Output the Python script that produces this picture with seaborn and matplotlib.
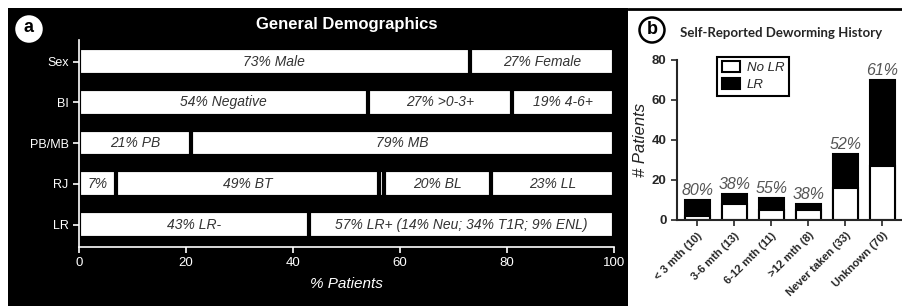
import numpy as np
import pandas as pd
import matplotlib
matplotlib.use("Agg")
import matplotlib.pyplot as plt
import seaborn as sns
from matplotlib import font_manager
from matplotlib.patches import Rectangle, Ellipse, Patch
from matplotlib.lines import Line2D

# Panel a: general demographics (percent of patients)
rows = ["Sex", "BI", "PB/MB", "RJ", "LR"]
sex_vals = [73, 27]
sex_labels = ["73% Male", "27% Female"]
bi_vals = [54, 27, 19]
bi_labels = ["54% Negative", "27% >0-3+", "19% 4-6+"]
pbmb_vals = [21, 79]
pbmb_labels = ["21% PB", "79% MB"]
rj_vals = [7, 49, 1, 20, 23]
rj_labels = ["7%", "49% BT", "", "20% BL", "23% LL"]
lr_vals = [43, 57]
lr_labels = ["43% LR-", "57% LR+ (14% Neu; 34% T1R; 9% ENL)"]
x_ticks = [0, 20, 40, 60, 80, 100]

# Panel b: self-reported deworming history
categories = ["< 3 mth (10)", "3-6 mth (13)", "6-12 mth (11)", ">12 mth (8)",
              "Never taken (33)", "Unknown (70)"]
no_lr = [2, 8, 5, 5, 16, 27]
lr = [8, 5, 6, 3, 17, 43]
pct_labels = ["80%", "38%", "55%", "38%", "52%", "61%"]

sns.set_style("ticks")
names = {f.name for f in font_manager.fontManager.ttflist}
narrow = "Liberation Sans Narrow" if "Liberation Sans Narrow" in names else "Liberation Sans"
plt.rcParams["font.family"] = ["Liberation Sans", "DejaVu Sans"]

W, H = 902, 306
fig = plt.figure(figsize=(W / 100, H / 100), dpi=100)
fig.patch.set_facecolor("white")

def fx(x):
    return x / W

def fy(y):
    return 1 - y / H

def badge(x, y, letter, edge):
    # round panel letter, sized in pixels so it stays a circle
    fig.patches.append(Ellipse((fx(x), fy(y)), 25 / W, 25 / H, transform=fig.transFigure,
                               facecolor="white", edgecolor=edge, lw=1.8, zorder=5))
    fig.text(fx(x), fy(y) + 1 / H, letter, ha="center", va="center", fontsize=13,
             fontweight="bold", color="black", zorder=6)

# black background of panel a, top rule of panel b
fig.patches.append(Rectangle((fx(8), 0), fx(628 - 8), 1 - 8 / H, transform=fig.transFigure,
                             facecolor="black", edgecolor="none", zorder=-5))
fig.lines.append(Line2D([fx(628), 1], [fy(9), fy(9)], transform=fig.transFigure,
                        color="black", lw=2))

# ---------- panel a ----------
ax_a = fig.add_axes([fx(79), fy(246.5), fx(614 - 79), (246.5 - 40) / H])
ax_a.patch.set_alpha(0)

seg_vals = [sex_vals, bi_vals, pbmb_vals, rj_vals, lr_vals]
seg_labels = [sex_labels, bi_labels, pbmb_labels, rj_labels, lr_labels]

records = []
for row, vals in zip(rows, seg_vals):
    cums = np.cumsum(vals)
    for j, c in enumerate(cums[::-1]):
        records.append({"row": row, "cum": c, "layer": j})
df_a = pd.DataFrame(records)

# widest layer first, shorter cumulative bars on top -> stacked look
for j in sorted(df_a["layer"].unique()):
    sub = df_a[df_a["layer"] == j]
    sns.barplot(data=sub, x="cum", y="row", order=rows, orient="h", color="white",
                saturation=1, edgecolor="black", linewidth=3, width=0.66,
                errorbar=None, ax=ax_a)

for i, (vals, labs) in enumerate(zip(seg_vals, seg_labels)):
    start = 0
    for v, lab in zip(vals, labs):
        if lab:
            ax_a.text(start + v / 2, i, lab, ha="center", va="center",
                      style="italic", color="#333333", fontsize=10)
        start += v

ax_a.set_xlim(0, 100)
ax_a.set_ylim(4.54, -0.53)
ax_a.set_xticks(x_ticks)
ax_a.set_xlabel("% Patients", color="white", style="italic", fontsize=11, labelpad=6)
ax_a.set_ylabel("")
for s in ["top", "right"]:
    ax_a.spines[s].set_visible(False)
for s in ["left", "bottom"]:
    ax_a.spines[s].set_color("white")
    ax_a.spines[s].set_linewidth(1.2)
ax_a.tick_params(colors="white", length=4, width=1.2)
for t in ax_a.get_xticklabels():
    t.set_family(narrow)
    t.set_fontsize(9.5)
for t in ax_a.get_yticklabels():
    t.set_family(narrow)
    t.set_fontsize(9)
fig.text(fx(347), fy(25), "General Demographics", color="white", fontweight="bold",
         fontsize=12, ha="center", va="center")
badge(29, 29, "a", "white")

# ---------- panel b ----------
ax_b = fig.add_axes([fx(677), fy(220), fx(902 - 677), (220 - 60) / H])
total = [a + b for a, b in zip(no_lr, lr)]
df_b = pd.DataFrame({"cat": categories, "total": total, "no_lr": no_lr})
sns.barplot(data=df_b, x="cat", y="total", color="black", saturation=1,
            edgecolor="black", linewidth=1.5, width=0.68, errorbar=None, ax=ax_b)
sns.barplot(data=df_b, x="cat", y="no_lr", color="white", saturation=1,
            edgecolor="black", linewidth=1.5, width=0.68, errorbar=None, ax=ax_b)
for i, (t, lab) in enumerate(zip(total, pct_labels)):
    ax_b.text(i, t + 1, lab, ha="center", va="bottom", style="italic",
              color="#555555", fontsize=11.5)

ax_b.set_xlim(-0.55, 5.53)
ax_b.set_ylim(0, 80)
ax_b.set_yticks([0, 20, 40, 60, 80])
ax_b.set_xlabel("")
ax_b.set_ylabel("# Patients", style="italic", fontsize=12, color="#222222")
ax_b.yaxis.set_label_coords(-0.13, 0.5)
for s in ["top", "right"]:
    ax_b.spines[s].set_visible(False)
for s in ["left", "bottom"]:
    ax_b.spines[s].set_linewidth(1.5)
ax_b.tick_params(length=4, width=1.2)
ax_b.set_xticks(range(len(categories)))
ax_b.set_xticklabels(categories, rotation=45, ha="right", rotation_mode="anchor",
                     family=narrow, fontweight="bold", fontsize=8)
for t in ax_b.get_yticklabels():
    t.set_family(narrow)
    t.set_fontweight("bold")
    t.set_fontsize(9.5)

handles = [Patch(facecolor="white", edgecolor="black", lw=1.5, label="No LR"),
           Patch(facecolor="black", edgecolor="black", lw=1.5, label="LR")]
leg = ax_b.legend(handles=handles, loc="upper left", bbox_to_anchor=(0.178, 1.02),
                  borderaxespad=0, fancybox=False, framealpha=1, edgecolor="black",
                  prop={"style": "italic", "size": 9.5}, handlelength=1.4,
                  handleheight=0.9, handletextpad=0.5, borderpad=0.35,
                  labelspacing=0.3)
leg.get_frame().set_linewidth(1.5)

fig.text(fx(781), fy(33), "Self-Reported Deworming History", fontweight="bold",
         fontsize=9.5, ha="center", va="center", family=["Lato", "DejaVu Sans"])
badge(652, 30, "b", "black")

fig.savefig("out.png", dpi=100, facecolor=fig.get_facecolor())
